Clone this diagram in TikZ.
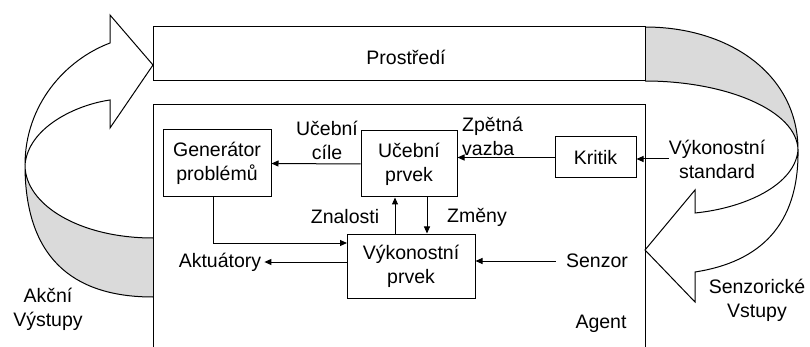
\documentclass[tikz,border=0pt]{standalone}
\usepackage{fontspec}
\setmainfont{Liberation Sans}
\usetikzlibrary{arrows.meta}
\definecolor{ribbongray}{RGB}{218,218,218}
\begin{document}
\begin{tikzpicture}[x=1pt,y=-1pt,
  every node/.style={font=\fontsize{19.5}{24}\selectfont},
  box/.style={draw, line width=1pt, inner sep=0pt},
  lbl/.style={inner sep=0pt, align=center},
  conn/.style={line width=1pt, -{Triangle[length=7pt,width=6pt]}},
  rib/.style={line width=1pt, line join=miter}]
\useasboundingbox (0,0) rectangle (810,347);

% --- twisted ribbon arrows (back faces in grey) ---
\fill[ribbongray] (153,297) .. controls (70,297) and (25,255) .. (25,165)
  .. controls (25,205) and (80,238) .. (153,238) -- cycle;
\fill[ribbongray] (645,27) .. controls (730,27) and (798,75) .. (798,150)
  .. controls (797,110) and (725,81) .. (645,81) -- cycle;

% action outputs: from the agent round to the environment
\draw[rib] (153,297) .. controls (70,297) and (25,255) .. (25,165)
  .. controls (25,105) and (65,60) .. (110,43)
  -- (110,15) -- (153,65) -- (110,128) -- (110,100)
  .. controls (75,105) and (28,128) .. (25,165)
  .. controls (25,205) and (80,238) .. (153,238);

% sensor inputs: from the environment round to the agent
\draw[rib] (645,27) .. controls (730,27) and (798,75) .. (798,150)
  .. controls (799,225) and (760,262) .. (695,272)
  -- (695,302) -- (645,250) -- (695,190) -- (695,213)
  .. controls (745,208) and (795,185) .. (798,150)
  .. controls (797,110) and (725,81) .. (645,81);

% --- environment ---
\node[box, minimum width=492pt, minimum height=54pt] (env) at (399,54) {};
\node[lbl] (envlbl) at (406,57) {Prostředí};

% --- agent frame (open at the bottom) ---
\draw[line width=1pt] (153,352) -- (153,105) -- (645,105) -- (645,352);
\node[lbl] (agent) at (601,324) {Agent};

% --- components ---
\node[box, minimum width=108pt, minimum height=67pt, align=center] (gen) at (217,163.5) {Generátor\\problémů};
\node[box, minimum width=96pt, minimum height=66pt, align=center] (uc) at (409,164) {Učební\\prvek};
\node[box, minimum width=128pt, minimum height=64pt, align=center] (vyk) at (411,266) {Výkonostní\\prvek};
\node[box, minimum width=81pt, minimum height=41pt] (krit) at (595.5,157.5) {Kritik};

% --- text labels ---
\node[lbl] (cile) at (327,140) {Učební\\cíle};
\node[lbl, align=left, anchor=west] (zpet) at (462,136) {Zpětná\\vazba};
\node[lbl] (znal) at (345,217) {Znalosti};
\node[lbl] (zmeny) at (477,217) {Změny};
\node[lbl] (std) at (717,159) {Výkonostní\\standard};
\node[lbl] (senz) at (597,261) {Senzor};
\node[lbl] (akt) at (220,262) {Aktuátory};
\node[lbl] (sv) at (757,300) {Senzorické\\Vstupy};
\node[lbl] (av) at (48,309) {Akční\\Výstupy};

% --- connectors ---
\coordinate (genin) at (347,243);
\draw[conn] (uc.west) -- (gen.east);
\draw[conn] (krit.west) -- (krit.west -| uc.east);
\draw[conn] (std.west) -- (std.west -| krit.east);
\draw[conn] ([xshift=-16pt]vyk.north) -- ([xshift=-16pt]vyk.north |- uc.south);
\draw[conn] ([xshift=18pt]uc.south) -- ([xshift=18pt]uc.south |- vyk.north);
\draw[conn] ([xshift=-4pt]gen.south) |- (genin);
\draw[conn] (akt.east -| vyk.west) -- ([xshift=3pt]akt.east);
\draw[conn] ([xshift=-10pt]senz.west) -- (senz.west -| vyk.east);
\end{tikzpicture}
\end{document}
